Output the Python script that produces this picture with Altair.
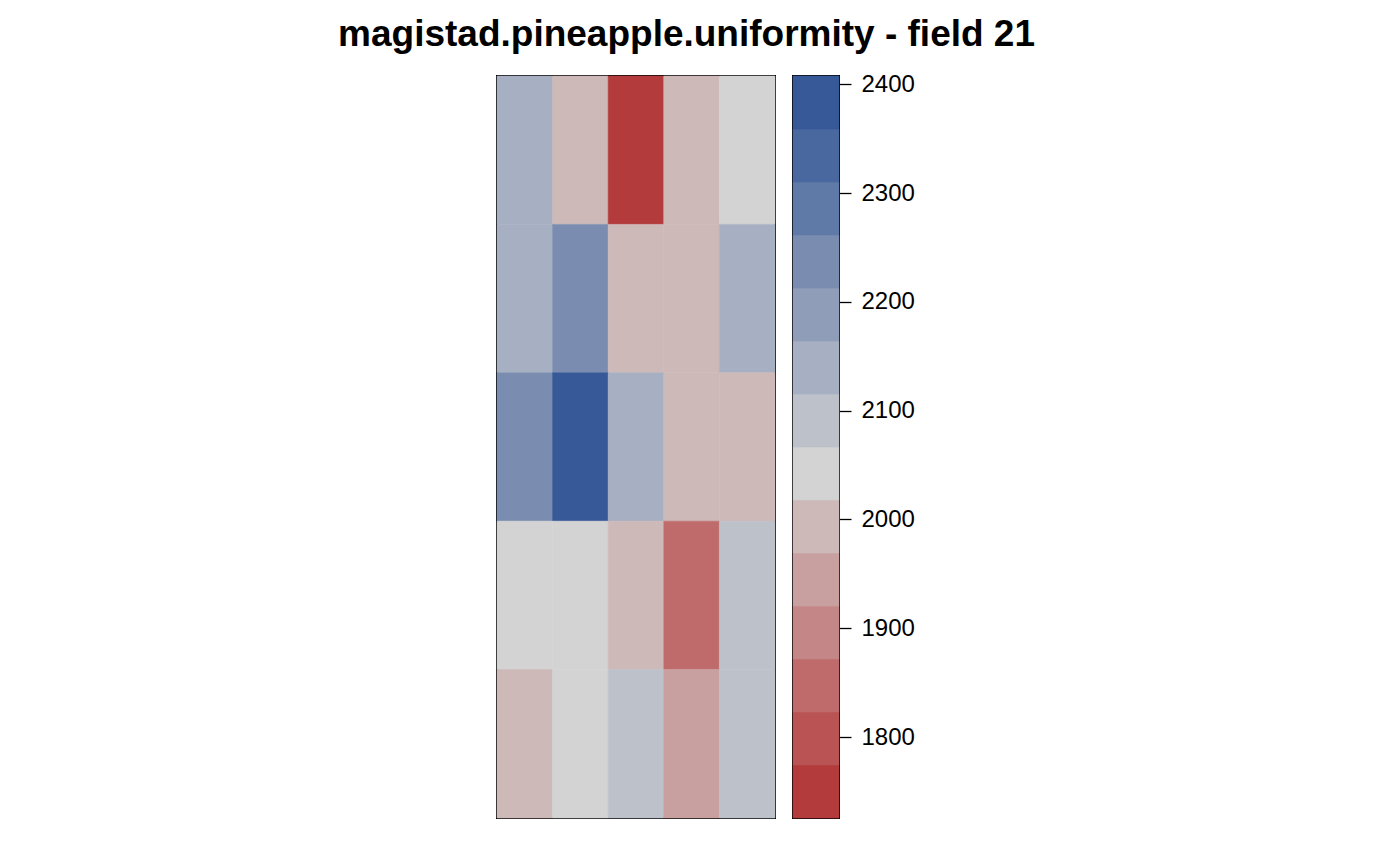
import altair as alt
import pandas as pd

# Field layout: rows (top to bottom) x columns (left to right)
rows = [1, 2, 3, 4, 5]
cols = [1, 2, 3, 4, 5]
yield_r1 = [2140, 1995, 1748, 1990, 2040]
yield_r2 = [2135, 2235, 1985, 2000, 2130]
yield_r3 = [2240, 2385, 2145, 1995, 1990]
yield_r4 = [2045, 2030, 2005, 1850, 2090]
yield_r5 = [1990, 2050, 2085, 1945, 2095]

# colour key breaks and colours
breaks = [1725.6, 1774.3, 1823.0, 1871.7, 1920.4, 1969.1, 2017.9, 2066.6,
          2115.3, 2164.0, 2212.7, 2261.4, 2310.1, 2358.8, 2407.6]
colors = ["#B43B3B", "#BA5454", "#BF6B6B", "#C48686", "#C9A0A0", "#CDB9B8",
          "#D3D3D3", "#BDC1C9", "#A7B0C2", "#8F9DB9", "#7A8DB0", "#607AA8",
          "#4A68A0", "#375997"]
key_ticks = [1800, 1900, 2000, 2100, 2200, 2300, 2400]

all_rows = [yield_r1, yield_r2, yield_r3, yield_r4, yield_r5]
recs = []
for r, vals in zip(rows, all_rows):
    for c, v in zip(cols, vals):
        recs.append({"row": r, "col": c, "yield": v})
df = pd.DataFrame(recs)

key = pd.DataFrame({"lo": breaks[:-1], "hi": breaks[1:]})
key["mid"] = (key["lo"] + key["hi"]) / 2

cscale = alt.Scale(type="threshold", domain=breaks[1:-1], range=colors)

heat = alt.Chart(df).mark_rect(strokeWidth=0.6).encode(
    x=alt.X("col:O", axis=None, scale=alt.Scale(paddingInner=0, paddingOuter=0)),
    y=alt.Y("row:O", axis=None, scale=alt.Scale(paddingInner=0, paddingOuter=0)),
    color=alt.Color("yield:Q", scale=cscale, legend=None),
    stroke=alt.Stroke("yield:Q", scale=cscale, legend=None),
).properties(width=278, height=742)

bar = alt.Chart(key).mark_rect(strokeWidth=0.6).encode(
    x=alt.value(0), x2=alt.value(46),
    y=alt.Y("lo:Q", scale=alt.Scale(domain=[breaks[0], breaks[-1]], nice=False, zero=False),
            axis=alt.Axis(orient="right", values=key_ticks, title=None, grid=False,
                          format="d", domain=False, tickSize=12, tickColor="black",
                          tickWidth=1.3, labelFontSize=24, labelColor="black",
                          labelPadding=10, labelFont="Liberation Sans")),
    y2="hi:Q",
    color=alt.Color("mid:Q", scale=cscale, legend=None),
    stroke=alt.Stroke("mid:Q", scale=cscale, legend=None),
).properties(width=46, height=742)

chart = alt.hconcat(heat, bar, spacing=14).properties(
    title=alt.TitleParams("magistad.pineapple.uniformity - field 21",
                          font="Liberation Sans", fontSize=37, fontWeight="bold",
                          color="black", anchor="middle", offset=17, dx=-19),
    padding={"left": 330, "top": 8, "right": 5, "bottom": 5},
).configure_view(stroke="black", strokeWidth=2)

chart.save("out.html", embed_options={"renderer": "svg", "actions": False})
